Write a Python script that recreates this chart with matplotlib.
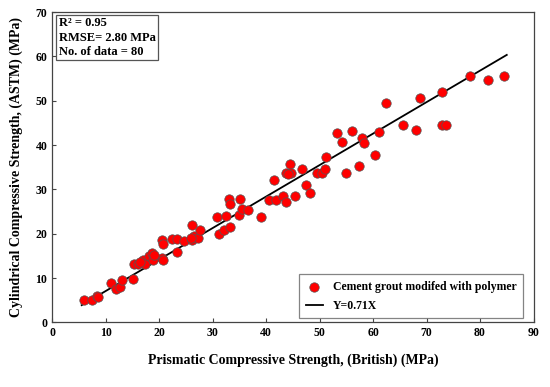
import matplotlib
matplotlib.use("Agg")
import matplotlib.pyplot as plt
import numpy as np

# prismatic (British) vs cylindrical (ASTM) strength, MPa
prism = [6.0, 7.5, 8.3, 8.6, 10.9, 11.9, 12.7, 13.1, 15.1, 15.3,
         16.1, 16.9, 17.3, 18.0, 18.7, 18.9, 20.5, 20.7, 20.6, 20.8,
         22.4, 23.3, 23.4, 24.7, 26.2, 26.2, 26.5, 27.2, 27.7, 30.8,
         31.2, 32.1, 32.5, 33.0, 33.2, 33.2, 35.0, 35.2, 35.5, 36.6,
         39.1, 40.6, 41.4, 41.9, 43.1, 43.7, 43.7, 44.4, 44.7, 45.4,
         46.7, 47.4, 48.2, 49.5, 50.4, 51.1, 51.2, 53.2, 54.2, 55.0,
         56.1, 57.3, 58.0, 58.3, 60.3, 61.1, 62.5, 65.6, 68.0, 68.7,
         72.8, 72.8, 73.6, 78.1, 81.4, 84.4, 16.5, 19.0, 26.0, 44.0]
cyl = [5.0, 5.1, 6.0, 5.8, 8.8, 7.6, 8.1, 9.5, 9.7, 13.1,
       13.3, 14.0, 13.1, 14.9, 15.6, 14.1, 14.5, 14.1, 18.6, 17.7,
       18.9, 18.8, 15.8, 18.4, 18.6, 21.9, 19.5, 19.1, 20.8, 23.8,
       19.9, 20.9, 24.0, 27.8, 26.7, 21.6, 24.2, 27.9, 25.7, 25.3,
       23.9, 27.7, 32.2, 27.7, 28.6, 33.7, 27.2, 35.8, 33.7, 28.6,
       34.6, 30.9, 29.3, 33.8, 33.8, 34.6, 37.4, 42.7, 40.7, 33.8,
       43.2, 35.2, 41.6, 40.5, 37.7, 43.0, 49.6, 44.6, 43.5, 50.7,
       52.0, 44.6, 44.6, 55.6, 54.7, 55.7, 13.6, 15.2, 19.0, 33.5]
slope = 0.71
fit_x = [5.5, 85.0]

plt.rcParams["font.family"] = ["Liberation Serif", "DejaVu Serif"]
plt.rcParams["font.weight"] = "bold"

fig = plt.figure(figsize=(5.5, 3.87), dpi=100)
ax = fig.add_axes([0.095, 0.1667, 0.875, 0.802])

ax.scatter(prism, cyl, s=46, color="red", edgecolors="#555555",
           linewidths=0.5, zorder=3, label="Cement grout modifed with polymer")
fx = np.array(fit_x)
ax.plot(fx, slope * fx, color="black", lw=1.3, zorder=2, label="Y=0.71X")

ax.set_xlim(0, 90)
ax.set_ylim(0, 70)
ax.set_xticks(range(0, 91, 10))
ax.set_yticks(range(0, 71, 10))
ax.tick_params(direction="in", length=3, width=0.8, labelsize=8.5, color="#444444")
for lab in ax.get_xticklabels() + ax.get_yticklabels():
    lab.set_fontweight("bold")
for sp in ax.spines.values():
    sp.set_color("#444444")
    sp.set_linewidth(0.9)

ax.set_xlabel("Prismatic Compressive Strength, (British) (MPa)",
              fontsize=10, fontweight="bold", labelpad=10)
ax.set_ylabel("Cylindrical Compressive Strength, (ASTM) (MPa)",
              fontsize=10, fontweight="bold", labelpad=9)

ax.text(0.013, 0.983, "R² = 0.95\nRMSE= 2.80 MPa\nNo. of data = 80",
        transform=ax.transAxes, ha="left", va="top", fontsize=9,
        fontweight="bold", linespacing=1.25,
        bbox=dict(boxstyle="square,pad=0.2", fc="white", ec="#555555", lw=0.9))

leg = ax.legend(loc="lower right", bbox_to_anchor=(0.978, 0.0135),
                borderaxespad=0, fancybox=False,
                prop={"weight": "bold", "size": 8.5}, handlelength=1.5,
                borderpad=0.55, labelspacing=0.6)
leg.get_frame().set_edgecolor("#666666")
leg.get_frame().set_linewidth(0.9)

fig.savefig("out.png", dpi=100)
